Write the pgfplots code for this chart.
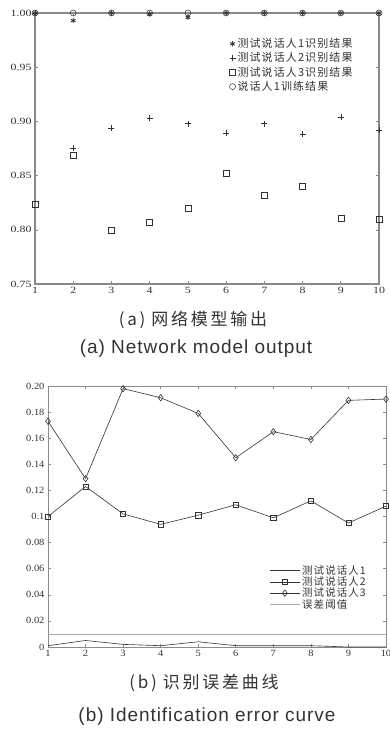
\documentclass[border=0pt]{standalone}
\usepackage{pgfplots}
\pgfplotsset{compat=1.18}
\usepackage{fontspec}
\setmainfont{Liberation Serif}
\newfontfamily\cjk{Noto Sans CJK SC}
\newfontfamily\cjkleg[LetterSpace=10]{Noto Sans CJK SC}
\newfontfamily\cjkcap[LetterSpace=16]{Noto Sans CJK SC}
\newfontfamily\capfont[LetterSpace=5]{Liberation Sans}
\newfontfamily\tickfont[FakeStretch=1.25]{Liberation Serif}
\newfontfamily\tickfontb[FakeStretch=1.1]{Liberation Serif}
\definecolor{ink}{HTML}{333333}
\definecolor{frame}{HTML}{8A8A8A}
\definecolor{thr}{HTML}{AAAAAA}
\begin{document}
\begin{tikzpicture}
\useasboundingbox (0pt,0pt) rectangle (389pt,-738pt);
\begin{axis}[
  at={(35pt,-284pt)}, anchor=south west,
  scale only axis, width=344pt, height=271pt,
  xmin=1, xmax=10, ymin=0.75, ymax=1.0,
  xtick={1,2,3,4,5,6,7,8,9,10},
  ytick={0.75,0.8,0.85,0.9,0.95,1},
  yticklabel style={/pgf/number format/.cd, fixed, fixed zerofill, precision=2},
  /pgf/number format/assume math mode=true,
  tick label style={font=\tickfont\fontsize{9.5}{11}\selectfont, text=ink},
  axis line style={draw=frame, line width=1.1pt},
  tick style={draw=frame, line width=0.6pt},
  tick align=inside, major tick length=3pt,
  clip=false,
  legend style={draw=none, fill=none, at={(0.562,0.918)}, anchor=north west,
    font=\cjkleg\fontsize{11}{12}\selectfont, text=ink, row sep=-0.5pt, inner sep=1pt},
  legend cell align=left,
]
\addplot[only marks, mark=asterisk, mark size=2.6pt, draw=ink, line width=0.9pt] coordinates {
(1,1.0) (2,0.993) (3,1.0) (4,0.999) (5,0.996) (6,1.0) (7,1.0) (8,1.0) (9,1.0) (10,1.0)};
\addlegendentry{测试说话人1识别结果}
\addplot[only marks, mark=+, mark size=3pt, draw=ink, line width=0.5pt] coordinates {
(1,1.0) (2,0.875) (3,0.894) (4,0.903) (5,0.898) (6,0.889) (7,0.898) (8,0.888) (9,0.904) (10,0.892)};
\addlegendentry{测试说话人2识别结果}
\addplot[only marks, mark=square, mark size=3pt, draw=ink, line width=0.5pt] coordinates {
(1,0.824) (2,0.869) (3,0.800) (4,0.807) (5,0.820) (6,0.852) (7,0.832) (8,0.840) (9,0.811) (10,0.810)};
\addlegendentry{测试说话人3识别结果}
\addplot[only marks, mark=o, mark size=3pt, draw=ink, line width=0.5pt] coordinates {
(1,1.0) (2,1.0) (3,1.0) (4,1.0) (5,1.0) (6,1.0) (7,1.0) (8,1.0) (9,1.0) (10,1.0)};
\addlegendentry{说话人1训练结果}
\end{axis}
\node[text=ink] at (193pt,-320pt) {\cjkcap\fontsize{17}{19}\selectfont (a)\hspace{6pt}网络模型输出};
\node[text=ink] at (196pt,-349pt) {\capfont\fontsize{19}{21}\selectfont (a) Network model output};
\begin{axis}[
  at={(48pt,-647pt)}, anchor=south west,
  scale only axis, width=338pt, height=261pt,
  xmin=1, xmax=10, ymin=0, ymax=0.2,
  xtick={1,2,3,4,5,6,7,8,9,10},
  ytick={0,0.02,0.04,0.06,0.08,0.1,0.12,0.14,0.16,0.18,0.2},
  yticklabels={0,0.02,0.04,0.06,0.08,0.1,0.12,0.14,0.16,0.18,0.20},
  /pgf/number format/assume math mode=true,
  tick label style={font=\tickfontb\fontsize{9.5}{11}\selectfont, text=ink},
  axis line style={draw=frame, line width=0.8pt},
  tick style={draw=frame, line width=0.6pt},
  tick align=inside, major tick length=3pt,
  clip=false,
  legend style={draw=none, fill=none, at={(0.652,0.325)}, anchor=north west,
    font=\cjkleg\fontsize{10.5}{11}\selectfont, text=ink, row sep=-3pt, inner sep=1pt},
  legend cell align=left,
  legend image code/.code={\draw[mark repeat=2, mark phase=2, #1] plot coordinates {(0pt,0pt) (15pt,0pt) (30pt,0pt)};},
]
\addplot[draw=ink, line width=0.6pt, mark=none] coordinates {
(1,0.001) (2,0.005) (3,0.002) (4,0.001) (5,0.004) (6,0.001) (7,0.001) (8,0.001) (9,0.0) (10,0.0)};
\addlegendentry{测试说话人1}
\addplot[draw=ink, line width=0.6pt, mark=square, mark size=2.6pt, mark options={solid, fill=white}] coordinates {
(1,0.100) (2,0.123) (3,0.102) (4,0.094) (5,0.101) (6,0.109) (7,0.099) (8,0.112) (9,0.095) (10,0.108)};
\addlegendentry{测试说话人2}
\addplot[draw=ink, line width=0.6pt, mark=diamond, mark size=3.2pt, mark options={solid, fill=white}] coordinates {
(1,0.173) (2,0.129) (3,0.198) (4,0.191) (5,0.179) (6,0.145) (7,0.165) (8,0.159) (9,0.189) (10,0.190)};
\addlegendentry{测试说话人3}
\addplot[draw=thr, line width=0.6pt, mark=none] coordinates {(1,0.01) (10,0.01)};
\addlegendentry{误差阈值}
\end{axis}
\node[text=ink] at (204pt,-683pt) {\cjkcap\fontsize{17}{19}\selectfont (b)\hspace{6pt}识别误差曲线};
\node[text=ink] at (207pt,-717pt) {\capfont\fontsize{19}{21}\selectfont (b) Identification error curve};
\end{tikzpicture}
\end{document}
